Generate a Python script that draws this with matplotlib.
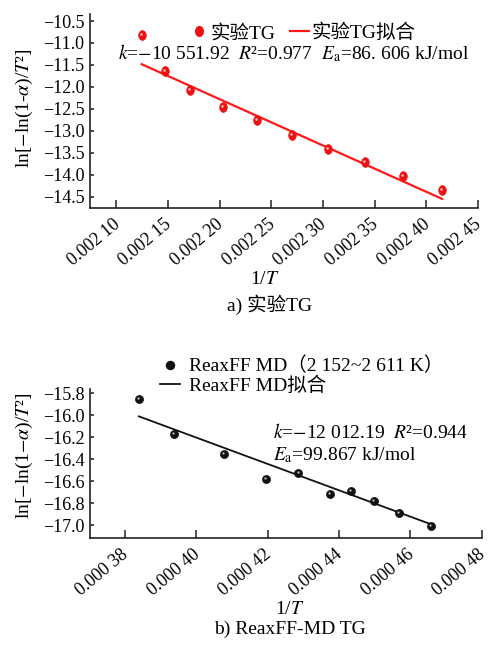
import matplotlib
matplotlib.use("Agg")
import matplotlib.pyplot as plt
from matplotlib.path import Path
from matplotlib.transforms import Affine2D, offset_copy
from matplotlib.lines import Line2D

plt.rcParams["font.family"] = ["Liberation Serif", "Noto Sans CJK SC"]
plt.rcParams["mathtext.fontset"] = "stix"
plt.rcParams["axes.unicode_minus"] = True

# ---- (a) experimental TG data ----
tg_inv_T = [0.0021246, 0.0021471, 0.0021713, 0.0022035, 0.0022358,
            0.0022696, 0.0023044, 0.0023405, 0.0023770, 0.0024153]
tg_y = [-10.82, -11.64, -12.07, -12.45, -12.76,
        -13.10, -13.42, -13.72, -14.03, -14.35]
tg_k = -10551.92
tg_b = 10.935
tg_xticks = [0.00210, 0.00215, 0.00220, 0.00225, 0.00230, 0.00235, 0.00240, 0.00245]
tg_xlabels = ["0.002 10", "0.002 15", "0.002 20", "0.002 25",
              "0.002 30", "0.002 35", "0.002 40", "0.002 45"]
tg_yticks = [-10.5, -11.0, -11.5, -12.0, -12.5, -13.0, -13.5, -14.0, -14.5]
tg_ylabels = ["\u221210.5", "\u221211.0", "\u221211.5", "\u221212.0", "\u221212.5",
              "\u221213.0", "\u221213.5", "\u221214.0", "\u221214.5"]

# ---- (b) ReaxFF MD data ----
md_inv_T = [0.0003839, 0.0003938, 0.0004077, 0.0004194, 0.0004286,
            0.0004374, 0.0004433, 0.0004498, 0.0004569, 0.0004658]
md_y = [-15.85, -16.17, -16.35, -16.58, -16.53,
        -16.72, -16.69, -16.78, -16.89, -17.01]
md_k = -12012.19
md_b = -11.398
md_xticks = [0.00038, 0.00040, 0.00042, 0.00044, 0.00046, 0.00048]
md_xlabels = ["0.000 38", "0.000 40", "0.000 42", "0.000 44", "0.000 46", "0.000 48"]
md_yticks = [-15.8, -16.0, -16.2, -16.4, -16.6, -16.8, -17.0]
md_ylabels = ["\u221215.8", "\u221216.0", "\u221216.2", "\u221216.4",
              "\u221216.6", "\u221216.8", "\u221217.0"]

W, H = 490, 645
fig = plt.figure(figsize=(W / 100, H / 100), dpi=100)


def px_axes(x0, y0, x1, y1):
    return fig.add_axes([x0 / W, 1 - y1 / H, (x1 - x0) / W, (y1 - y0) / H])


ellipse = Path(Affine2D().scale(0.78, 1.0).transform(Path.unit_circle().vertices),
               Path.unit_circle().codes)

TICK_FS = 13
TXT_FS = 14


def style_axes(ax, xticks, xlabels, yticks, ylabels):
    for s in ("top", "right"):
        ax.spines[s].set_visible(False)
    for s in ("left", "bottom"):
        ax.spines[s].set_linewidth(1.2)
        ax.spines[s].set_color("#222222")
    ax.set_xticks(xticks)
    ax.set_xticklabels(xlabels, rotation=40, ha="right", va="center_baseline",
                       rotation_mode="anchor", fontsize=TICK_FS)
    ax.set_yticks(yticks)
    ax.set_yticklabels(ylabels, fontsize=TICK_FS)
    ax.tick_params(axis="x", direction="in", length=5.5, width=1.1, pad=9,
                   color="#222222")
    ax.tick_params(axis="y", direction="in", length=3, width=1.1, pad=4,
                   color="#222222")


def shaded(ax, x, y, color, marker, size, hl_size):
    ax.plot(x, y, ls="none", marker=marker, ms=size, mfc=color, mec=color,
            mew=0.5, zorder=3)
    hl = offset_copy(ax.transData, fig=fig, x=-0.6, y=0.8, units="points")
    ax.plot(x, y, ls="none", marker="o", ms=hl_size, mfc="white", mec="none",
            alpha=0.75, transform=hl, zorder=4)


# ---------------- panel (a) ----------------
ax1 = px_axes(90, 14, 478, 208.3)
ax1.set_xlim(0.0020746, 0.00245)
ax1.set_ylim(-14.765, -10.34)
style_axes(ax1, tg_xticks, tg_xlabels, tg_yticks, tg_ylabels)

xa = [min(tg_inv_T), max(tg_inv_T)]
ax1.plot(xa, [tg_k * v + tg_b for v in xa], color="#ff1a1a", lw=1.6, zorder=2)
shaded(ax1, tg_inv_T, tg_y, "#ee1111", ellipse, 7, 1.8)

h1 = Line2D([], [], ls="none", marker=ellipse, ms=7, mfc="#ee1111", mec="#ee1111")
h2 = Line2D([], [], color="#ff1a1a", lw=1.6)
ax1.legend([h1, h2], ["实验TG", "实验TG拟合"], ncol=2, frameon=False,
           fontsize=TXT_FS, handlelength=0.95, handletextpad=0.12,
           columnspacing=0.75, loc="center left",
           bbox_to_anchor=(190 / W, 1 - 33 / H), bbox_transform=fig.transFigure,
           borderpad=0, borderaxespad=0)

fig.text(118 / W, 1 - 53 / H,
         r"$k$=$-$10 551.92  $R$²=0.977  $E_{\mathrm{a}}$=86. 606 kJ/mol",
         fontsize=TXT_FS, ha="left", va="center")

ax1.set_ylabel(r"ln[$-$ln(1-$\alpha$)/$T$²]", fontsize=TXT_FS)
ax1.yaxis.set_label_coords(35 / W, 1 - 108 / H, transform=fig.transFigure)
fig.text(265 / W, 1 - 280 / H, r"1/$T$", fontsize=TXT_FS, ha="center", va="center")
fig.text(270 / W, 1 - 305 / H, "a) 实验TG", fontsize=TXT_FS, ha="center", va="center")

# ---------------- panel (b) ----------------
ax2 = px_axes(90, 389, 481.7, 538.3)
ax2.set_xlim(0.0003702, 0.00048)
ax2.set_ylim(-17.121, -15.76)
style_axes(ax2, md_xticks, md_xlabels, md_yticks, md_ylabels)

xb = [min(md_inv_T), max(md_inv_T)]
ax2.plot(xb, [md_k * v + md_b for v in xb], color="#111111", lw=1.3, zorder=2)
shaded(ax2, md_inv_T, md_y, "#111111", "o", 5.8, 1.6)

g1 = Line2D([], [], ls="none", marker="o", ms=5.8, mfc="#111111", mec="#111111")
g2 = Line2D([], [], color="#111111", lw=1.3)
ax2.legend([g1, g2], ["ReaxFF MD（2 152~2 611 K）", "ReaxFF MD拟合"],
           frameon=False, fontsize=TXT_FS, handlelength=1.05, handletextpad=0.45,
           labelspacing=0.05, loc="upper left",
           bbox_to_anchor=(160 / W, 1 - 357 / H), bbox_transform=fig.transFigure,
           borderpad=0, borderaxespad=0)

fig.text(273 / W, 1 - 433 / H, r"$k$=$-$12 012.19  $R$²=0.944",
         fontsize=TXT_FS, ha="left", va="center")
fig.text(273 / W, 1 - 455 / H, r"$E_{\mathrm{a}}$=99.867 kJ/mol",
         fontsize=TXT_FS, ha="left", va="center")

ax2.set_ylabel(r"ln[$-$ln(1$-$$\alpha$)/$T$²]", fontsize=TXT_FS)
ax2.yaxis.set_label_coords(35 / W, 1 - 456 / H, transform=fig.transFigure)
fig.text(290 / W, 1 - 610 / H, r"1/$T$", fontsize=TXT_FS, ha="center", va="center")
fig.text(290 / W, 1 - 629 / H, "b) ReaxFF-MD TG", fontsize=TXT_FS,
         ha="center", va="center")

fig.savefig("out.png", dpi=100)
